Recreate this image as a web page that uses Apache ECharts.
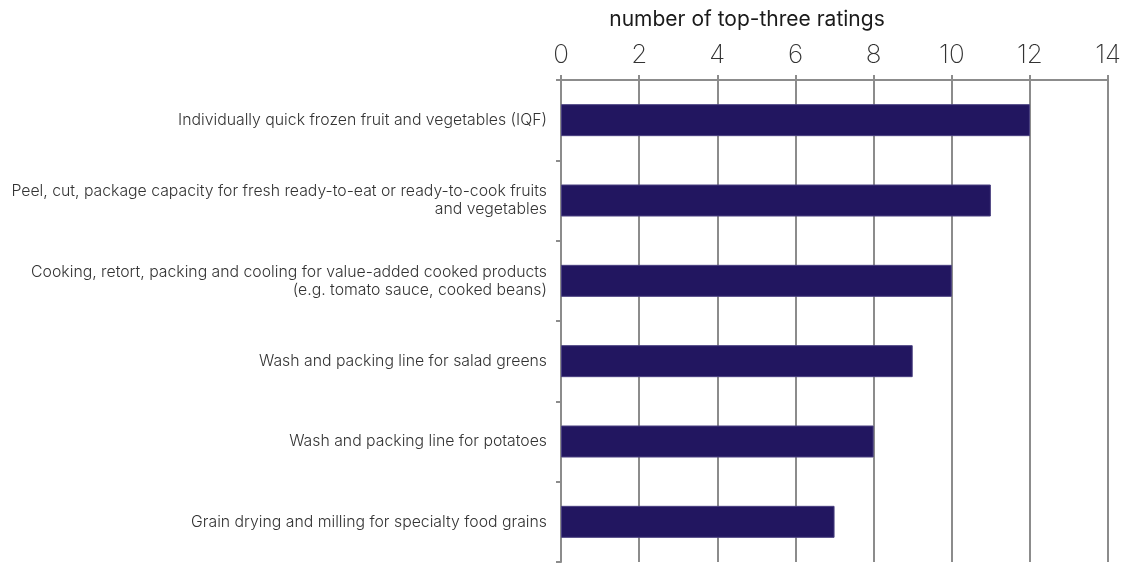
<!DOCTYPE html>
<html>
<head>
<meta charset="utf-8">
<script src="https://cdn.jsdelivr.net/npm/echarts@6/dist/echarts.min.js"></script>
<style>
  html, body { margin: 0; padding: 0; background: #ffffff; }
  #chart { width: 1124px; height: 564px; }
</style>
</head>
<body>
<div id="chart"></div>
<script>
// categories top to bottom
const categories = [
  'Individually quick frozen fruit and vegetables (IQF)',
  'Peel, cut, package capacity for fresh ready-to-eat or ready-to-cook fruits\nand vegetables',
  'Cooking, retort, packing and cooling for value-added cooked products\n(e.g. tomato sauce, cooked beans)',
  'Wash and packing line for salad greens',
  'Wash and packing line for potatoes',
  'Grain drying and milling for specialty food grains'
];
const ratings = [12, 11, 10, 9, 8, 7];

const axisTitle = 'number of top-three ratings';

const chart = echarts.init(document.getElementById('chart'));

const option = {
  animation: false,
  backgroundColor: '#ffffff',
  title: {
    text: axisTitle,
    left: 742,
    top: 4,
    textAlign: 'center',
    textStyle: {
      fontFamily: 'Inter',
      fontSize: 21,
      fontWeight: 400,
      color: '#1a1a1a'
    }
  },
  grid: {
    left: 561,
    right: 15,
    top: 80,
    bottom: 2,
    containLabel: false
  },
  xAxis: {
    type: 'value',
    position: 'top',
    min: 0,
    max: 14,
    interval: 2,
    axisLine: {
      show: true,
      lineStyle: { color: '#8c8c8c', width: 2 }
    },
    axisTick: {
      show: true,
      inside: false,
      length: 5,
      lineStyle: { color: '#8c8c8c', width: 2 }
    },
    axisLabel: {
      margin: 12,
      fontFamily: 'Inter',
      fontWeight: 200,
      fontSize: 26,
      color: '#333333'
    },
    splitLine: {
      show: true,
      lineStyle: { color: '#8c8c8c', width: 2 }
    }
  },
  yAxis: {
    type: 'category',
    inverse: true,
    data: categories,
    axisLine: {
      show: true,
      lineStyle: { color: '#8c8c8c', width: 2 }
    },
    axisTick: {
      show: true,
      length: 5,
      lineStyle: { color: '#8c8c8c', width: 2 }
    },
    axisLabel: {
      margin: 14,
      fontFamily: 'Inter',
      fontWeight: 300,
      fontSize: 15.8,
      lineHeight: 18,
      color: '#333333',
      align: 'right'
    }
  },
  series: [
    {
      type: 'bar',
      data: ratings,
      barWidth: 32,
      itemStyle: {
        color: '#221660',
        borderColor: '#4a4080',
        borderWidth: 1
      }
    }
  ]
};

chart.setOption(option);
</script>
</body>
</html>
